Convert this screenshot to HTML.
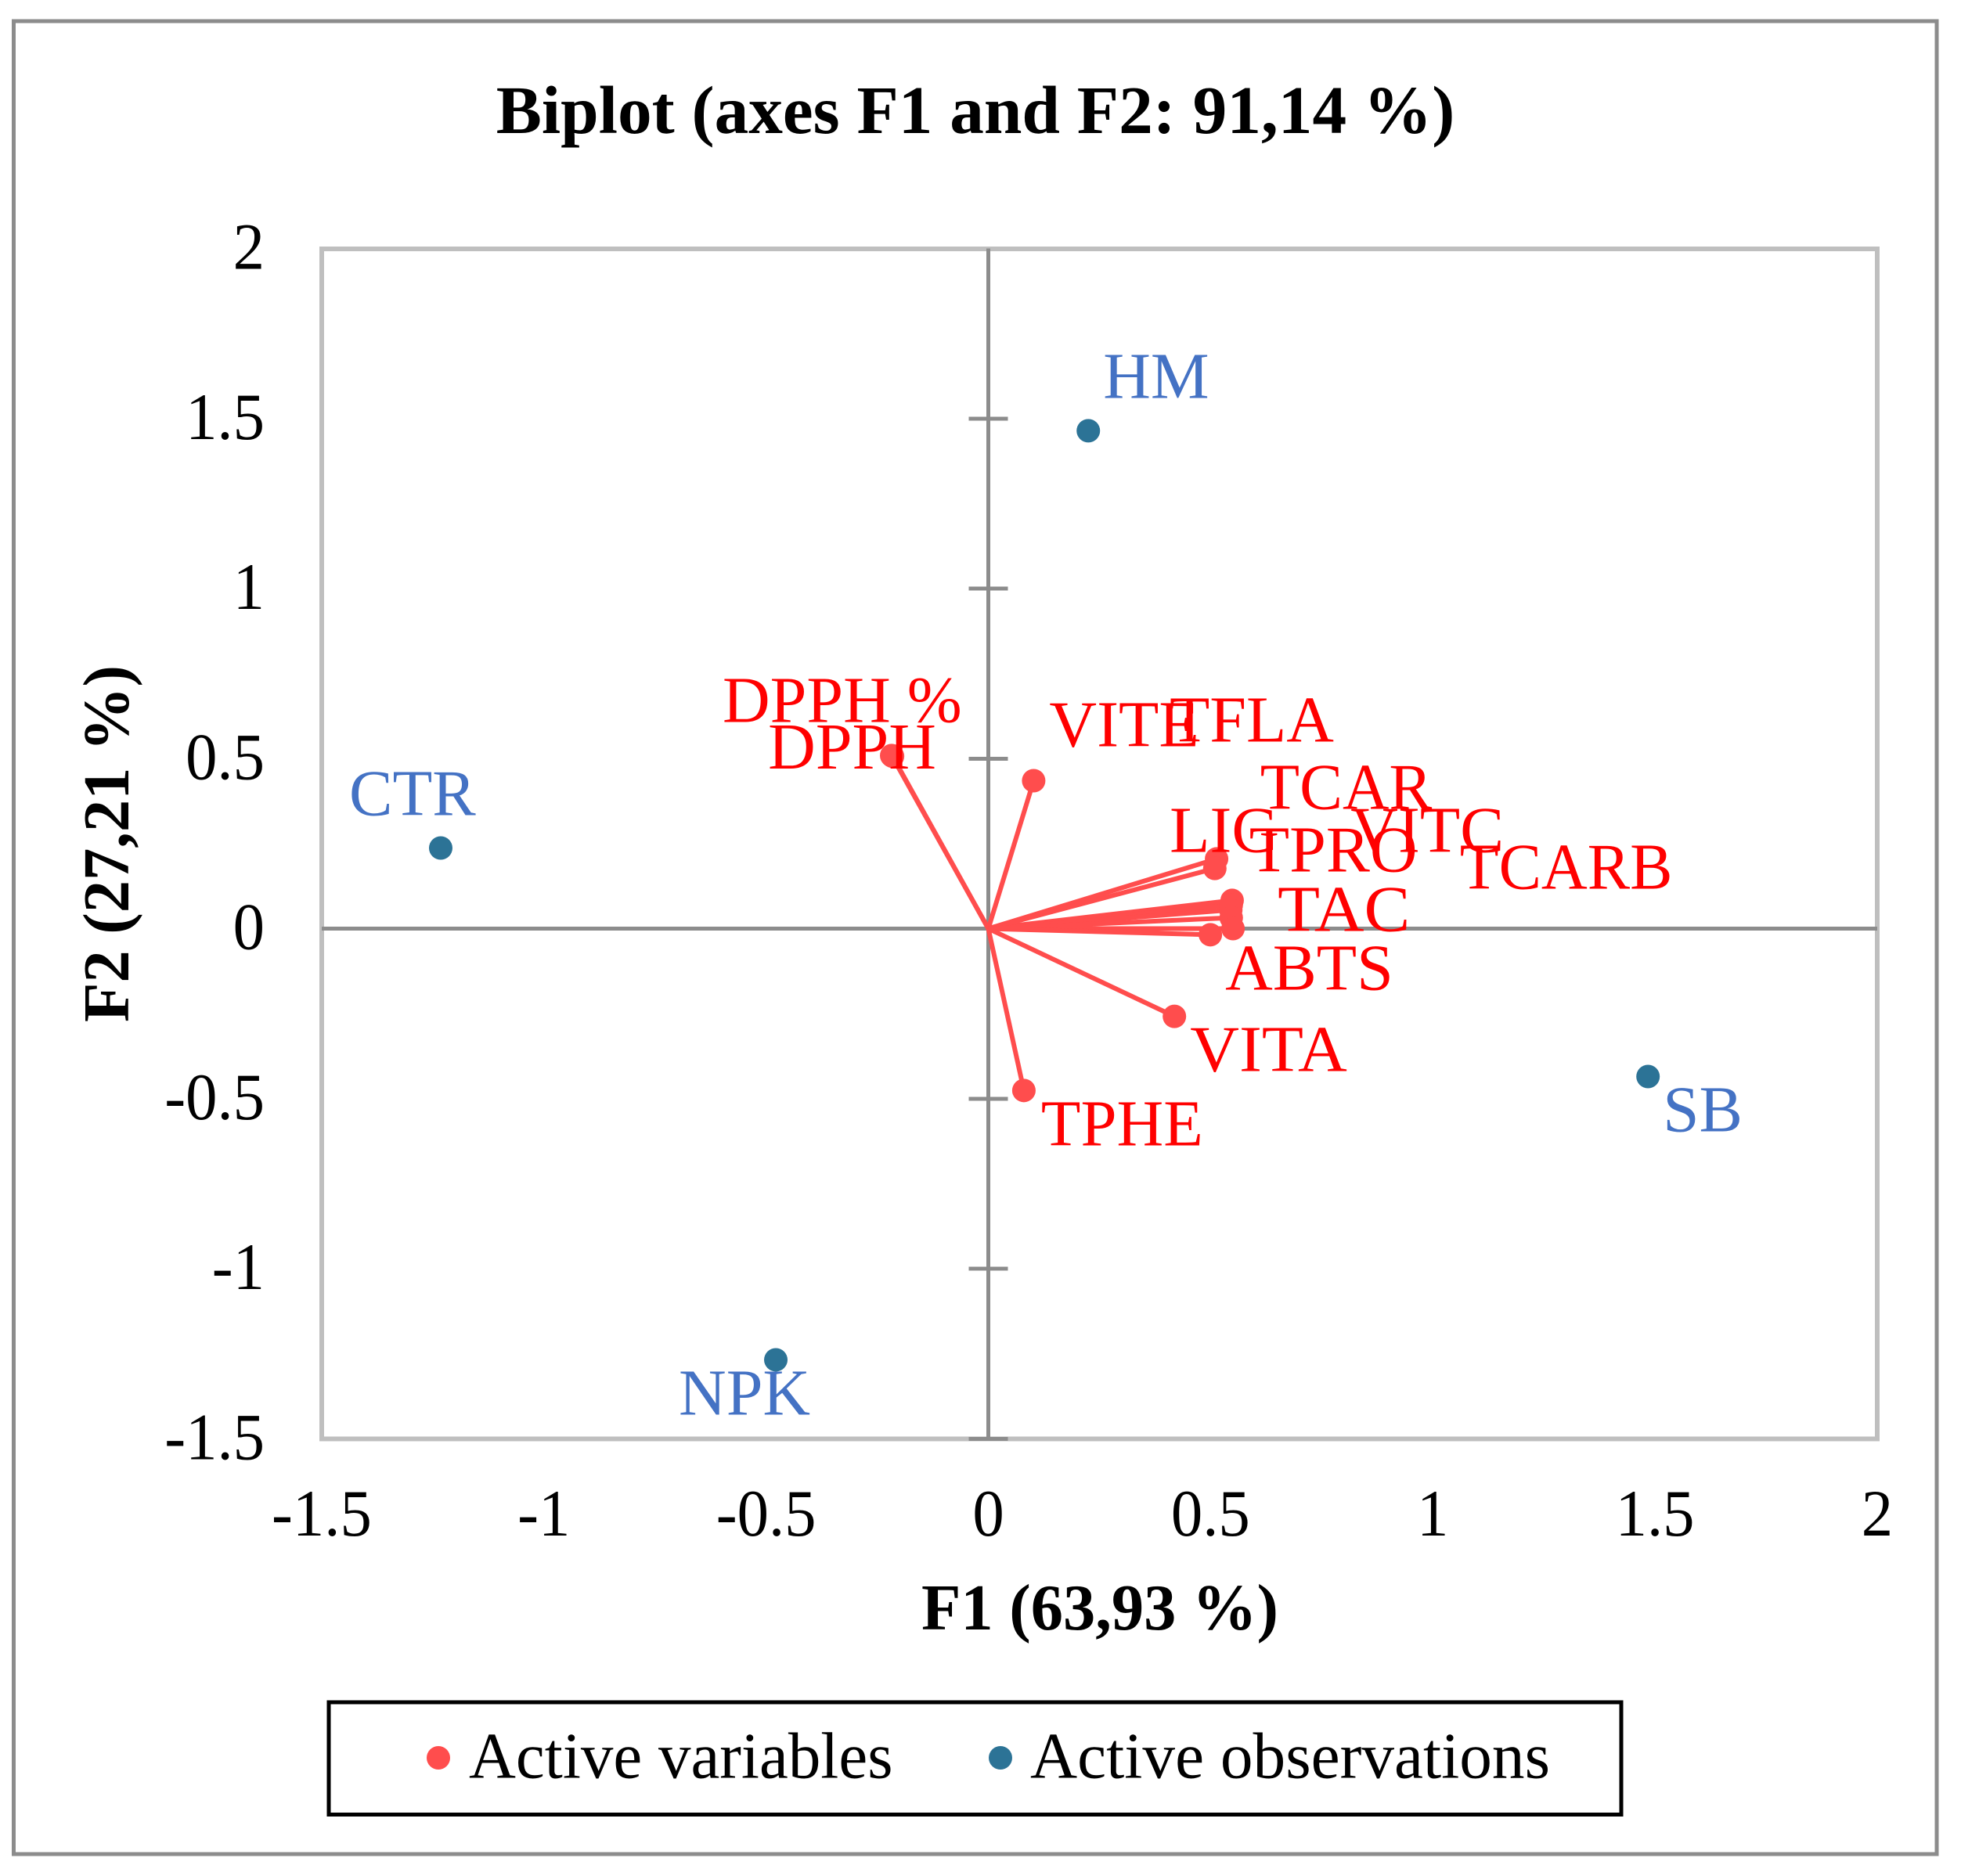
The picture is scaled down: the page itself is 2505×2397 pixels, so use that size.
<!DOCTYPE html>
<html lang="en">
<head>
<meta charset="utf-8">
<title>Biplot (axes F1 and F2: 91,14 %)</title>
<style>
html,body{margin:0;padding:0;background:#fff;width:2505px;height:2397px;overflow:hidden}
svg{display:block}
text{font-family:"Liberation Serif","Times New Roman",serif}
</style>
</head>
<body>
<svg id="chart" xmlns="http://www.w3.org/2000/svg" width="2505" height="2397" viewBox="0 0 2505 2397">
  <rect x="0" y="0" width="2505" height="2397" fill="#ffffff"/>
  <rect x="17.5" y="27" width="2456.5" height="2342" fill="#ffffff" stroke="#8c8c8c" stroke-width="5" shape-rendering="crispEdges"/>
  <text x="1246" y="170" text-anchor="middle" font-size="87.3" font-weight="bold" fill="#000">Biplot (axes F1 and F2: 91,14 %)</text>
  <rect x="411" y="318" width="1987" height="1520.5" fill="none" stroke="#bfbfbf" stroke-width="6" shape-rendering="crispEdges"/>
  <g id="axes" shape-rendering="crispEdges"></g>
  <g id="x-tick-labels"></g>
  <g id="y-tick-labels"></g>
  <g id="vectors"></g>
  <g id="points"></g>
  <g id="labels"></g>
  <text x="1405" y="2082" text-anchor="middle" font-size="84" font-weight="bold" fill="#000" textLength="456" lengthAdjust="spacingAndGlyphs">F1 (63,93 %)</text>
  <text transform="translate(164 1078) rotate(-90)" x="0" y="0" text-anchor="middle" font-size="84" font-weight="bold" fill="#000" textLength="456" lengthAdjust="spacingAndGlyphs">F2 (27,21 %)</text>
  <g>
    <rect x="420" y="2175" width="1651" height="143.5" fill="#ffffff" stroke="#000000" stroke-width="5" shape-rendering="crispEdges"/>
    <circle cx="560" cy="2246" r="15" fill="#ff4d4d"/>
    <text x="599" y="2271.5" font-size="84" fill="#000" textLength="541.5" lengthAdjust="spacingAndGlyphs">Active variables</text>
    <circle cx="1278" cy="2246" r="15" fill="#2c7396"/>
    <text x="1316" y="2271.5" font-size="84" fill="#000" textLength="664" lengthAdjust="spacingAndGlyphs">Active observations</text>
  </g>
</svg>
<script>
// Chart data (factor-score coordinates)
const xTicks = [-1.5, -1, -0.5, 0, 0.5, 1, 1.5, 2];
const yTicks = [-1.5, -1, -0.5, 0, 0.5, 1, 1.5, 2];
const variableNames = ['DPPH %', 'DPPH', 'VITE', 'TFLA', 'TCAR', 'LIG', 'VITC', 'TPRO', 'TCARB', 'TAC', 'ABTS', 'VITA', 'TPHE'];
const variableF1 = [-0.2175, -0.2155, 0.102, 0.5486, 0.5466, 0.5136, 0.5456, 0.5096, 0.5466, 0.5506, 0.4996, 0.4187, 0.08];
const variableF2 = [0.509, 0.507, 0.435, 0.083, 0.069, 0.205, 0.055, 0.177, 0.032, 0, -0.018, -0.258, -0.476];
const observationNames = ['CTR', 'HM', 'SB', 'NPK'];
const observationF1 = [-1.2322, 0.225, 1.4844, -0.4782];
const observationF2 = [0.237, 1.464, -0.435, -1.268];

// Manual label placement relative to each marker: dx, dy, horizontal squeeze (layout, not data)
const labelLayout = {
  'DPPH %': [-216, -43, 1], 'DPPH': [-159, 16, 1], 'VITE': [20, -44, 1], 'TFLA': [-80, -203, 1],
  'TCAR': [37, -123, 0.98], 'LIG': [-60, -9, 1], 'VITC': [153, -74, 1], 'TPRO': [44, 4, 1],
  'TCARB': [292, -37, 0.97], 'TAC': [57, 3, 1.05], 'ABTS': [19, 70, 1], 'VITA': [20, 70, 1.035], 'TPHE': [22, 70, 0.985],
  'CTR': [-117, -42, 0.99], 'HM': [19, -42, 1], 'SB': [19, 70, 0.99], 'NPK': [-124, 70, 1]
};

const SVGNS = 'http://www.w3.org/2000/svg';
const originX = 1262.5, unitX = 567.7, originY = 1186.5, unitY = 434.5;
function xScale(v) { return originX + v * unitX; }
function yScale(v) { return originY - v * unitY; }
function make(tag, parentId, attrs) {
  const el = document.createElementNS(SVGNS, tag);
  for (const k in attrs) el.setAttribute(k, attrs[k]);
  document.getElementById(parentId).appendChild(el);
  return el;
}
const AXIS = '#8c8c8c';

// Axes through the origin
const hAxis = make('line', 'axes', {x1: xScale(-1.5), x2: xScale(2), y1: yScale(0), y2: yScale(0), stroke: AXIS, 'stroke-width': 5});


const vAxis = make('line', 'axes', {x1: xScale(0), x2: xScale(0), y1: yScale(2), y2: yScale(-1.5), stroke: AXIS, 'stroke-width': 5});



// Tick marks sit on the vertical axis only
yTicks.forEach(function (t) {
  if (t === 0 || t === 2) return;
  const tick = make('line', 'axes', {x1: xScale(0) - 25, x2: xScale(0) + 25, y1: yScale(t), y2: yScale(t), stroke: AXIS, 'stroke-width': 5});
  
  
});

xTicks.forEach(function (t) {
  const label = make('text', 'x-tick-labels', {transform: 'translate(' + xScale(t) + ' 1962) scale(0.95 1)', 'text-anchor': 'middle', 'font-size': 85, fill: '#000'});
  label.textContent = String(t);
  
  
});
yTicks.forEach(function (t) {
  const label = make('text', 'y-tick-labels', {transform: 'translate(338 ' + (yScale(t) + 26) + ') scale(0.95 1)', 'text-anchor': 'end', 'font-size': 85, fill: '#000'});
  label.textContent = String(t);
  
  
});

// Variable vectors from the origin
variableNames.forEach(function (name, i) {
  const line = make('line', 'vectors', {x1: xScale(0), y1: yScale(0), x2: xScale(variableF1[i]), y2: yScale(variableF2[i]), stroke: '#ff4d4d', 'stroke-width': 6});
  
  
});
variableNames.forEach(function (name, i) {
  const dot = make('circle', 'points', {cx: xScale(variableF1[i]), cy: yScale(variableF2[i]), r: 15, fill: '#ff4d4d'});
  
  
});
observationNames.forEach(function (name, i) {
  const dot = make('circle', 'points', {cx: xScale(observationF1[i]), cy: yScale(observationF2[i]), r: 15, fill: '#2c7396'});
  
  
});

function labelTransform(px, py, name) {
  const l = labelLayout[name];
  return 'translate(' + (px + l[0]) + ' ' + (py + l[1]) + ') scale(' + l[2] + ' 1)';
}

// Labels drawn above the markers
variableNames.forEach(function (name, i) {
  const label = make('text', 'labels', {transform: labelTransform(xScale(variableF1[i]), yScale(variableF2[i]), name), 'font-size': 84, fill: '#ff0000'});
  label.textContent = name;
  
  
});
observationNames.forEach(function (name, i) {
  const label = make('text', 'labels', {transform: labelTransform(xScale(observationF1[i]), yScale(observationF2[i]), name), 'font-size': 84, fill: '#4472c4'});
  label.textContent = name;
  
  
});
</script>
</body>
</html>
